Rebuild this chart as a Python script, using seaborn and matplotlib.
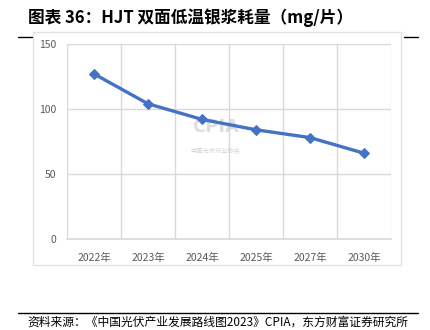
import matplotlib
matplotlib.use("Agg")
import matplotlib.pyplot as plt
from matplotlib.patches import Rectangle
from matplotlib.lines import Line2D
import seaborn as sns
import pandas as pd

years = ["2022年", "2023年", "2024年", "2025年", "2027年", "2030年"]
consumption = [127, 104, 92, 84, 78, 66]
y_ticks = [0, 50, 100, 150]

sns.set_theme(style="white")
plt.rcParams['font.family'] = ['Noto Sans CJK SC', 'DejaVu Sans']

df = pd.DataFrame({"year": years, "value": consumption})

fig = plt.figure(figsize=(4.3, 3.3), dpi=100)
ax = fig.add_axes([67/430, 1-239/330, (391-67)/430, (239-44)/330])

grid_c = "#d9d9d9"
sns.lineplot(data=df, x="year", y="value", ax=ax, color="#4472C4", linewidth=2.4,
             marker="D", markersize=5.5, markeredgecolor="#4472C4", zorder=3)

ax.set_xlim(-0.5, len(years) - 0.5)
ax.set_ylim(0, 150)
ax.set_yticks(y_ticks)
ax.set_xticks(range(len(years)))
ax.set_xticks([i - 0.5 for i in range(len(years) + 1)], minor=True)
ax.grid(False)
ax.yaxis.grid(True, color=grid_c, linewidth=1)
ax.xaxis.grid(True, which="minor", color=grid_c, linewidth=1)
for s in ax.spines.values():
    s.set_visible(False)
ax.spines["bottom"].set_visible(True)
ax.spines["bottom"].set_color(grid_c)
ax.tick_params(axis="both", which="both", length=0, labelsize=7.5, colors="#595959")
ax.tick_params(axis="x", pad=10)
ax.tick_params(axis="y", pad=8)
ax.set_xlabel("")
ax.set_ylabel("")

# watermark
ax.text(2.25, 86, "CPIA", fontsize=13, fontweight="bold", color="#c8c8c8",
        ha="center", va="center", alpha=0.6, zorder=1, family="DejaVu Sans")
ax.text(2.25, 68, "中国光伏行业协会", fontsize=4.5, color="#c0c0c0",
        ha="center", va="center", alpha=0.7, zorder=1)

# outer border
fig.patches.append(Rectangle((33/430, 1-265/330), (401-33)/430, (265-32)/330,
                             transform=fig.transFigure, fill=False,
                             edgecolor="#e3e3e3", linewidth=1))

fig.text(28/430, 1-18/330, "图表 36：HJT 双面低温银浆耗量（mg/片）", fontsize=12,
         fontweight="bold", ha="left", va="center", color="#000000")
fig.add_artist(Line2D([18/430, 32/430], [1-37/330, 1-37/330], color="black", linewidth=1,
                      transform=fig.transFigure))
fig.add_artist(Line2D([404/430, 418/430], [1-37/330, 1-37/330], color="black", linewidth=1,
                      transform=fig.transFigure))
fig.add_artist(Line2D([18/430, 418/430], [1-313/330, 1-313/330], color="black", linewidth=1,
                      transform=fig.transFigure))
fig.text(27/430, 1-322/330, "资料来源：《中国光伏产业发展路线图2023》CPIA，东方财富证券研究所",
         fontsize=8.5, ha="left", va="center", color="#000000")

fig.savefig("out.png", dpi=100)
